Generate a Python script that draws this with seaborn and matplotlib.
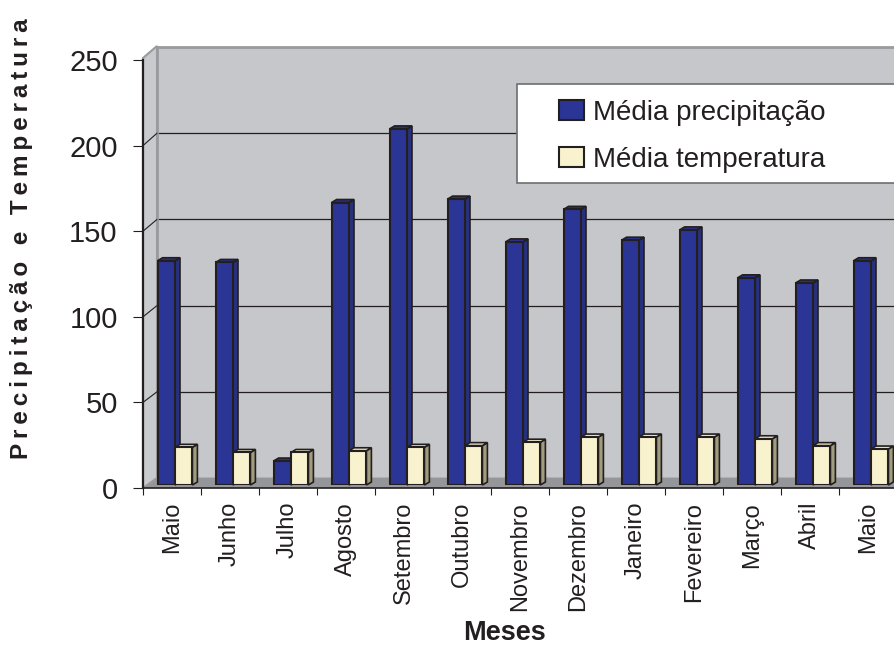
import numpy as np
import pandas as pd
import matplotlib
matplotlib.use("Agg")
import matplotlib.pyplot as plt
import matplotlib.patches as mpatches
import matplotlib.transforms as mtransforms
from matplotlib.lines import Line2D
import seaborn as sns

# ---------------- data ----------------
meses = ["Maio", "Junho", "Julho", "Agosto", "Setembro", "Outubro", "Novembro",
         "Dezembro", "Janeiro", "Fevereiro", "Março", "Abril", "Maio"]
precipitacao = [131, 130, 14, 165, 208, 167, 142, 161, 143, 149, 121, 118, 131]
temperatura = [22, 19, 19, 20, 22, 23, 25, 28, 28, 28, 27, 23, 21]
series = ["Média precipitação", "Média temperatura"]
yticks = [0, 50, 100, 150, 200, 250]

# ---------------- style ----------------
sns.set_style("white")
plt.rcParams["font.family"] = ["Liberation Sans", "DejaVu Sans"]
TXT = "#231F20"
BLUE = "#2B3595"
CREAM = "#F8F2CF"
BLUE_SIDE = "#26307F"
BLUE_TOP = "#2A3185"
CREAM_SIDE = "#A19C7E"
CREAM_TOP = "#EEE8C6"
WALL = "#C6C7CA"
FLOOR = "#95969A"
EDGE_GRAY = "#9A9B9E"

W, H = 895, 648
fig = plt.figure(figsize=(W / 100, H / 100), dpi=100)


def rect(left, bottom, top, width):
    return [left / W, 1 - bottom / H, width / W, (bottom - top) / H]


def fpx(x, y):
    return (x / W, 1 - y / H)


CW = 754  # width of 13 categories in px

# back wall
axw = fig.add_axes(rect(157, 478, 47, CW), zorder=0)
axw.set_facecolor(WALL)
axw.set_xlim(-0.5, 12.5)
axw.set_ylim(0, 250)
axw.set_xticks([])
axw.set_yticks(yticks)
axw.tick_params(left=False, labelleft=False)
axw.grid(axis="y", color=TXT, lw=0.9)
for s in ["right", "bottom"]:
    axw.spines[s].set_visible(False)
axw.spines["top"].set_color(EDGE_GRAY)
axw.spines["top"].set_linewidth(2)
axw.spines["left"].set_color(EDGE_GRAY)
axw.spines["left"].set_linewidth(2)

# floor and left wall
floor = mpatches.Polygon([fpx(143, 488), fpx(157, 478), fpx(920, 478), fpx(906, 488)],
                         closed=True, transform=fig.transFigure, facecolor=FLOOR,
                         edgecolor="none", zorder=0.5)
lwall = mpatches.Polygon([fpx(143, 488), fpx(143, 58), fpx(157, 46), fpx(157, 478)],
                         closed=True, transform=fig.transFigure, facecolor="#C9CACD",
                         edgecolor=EDGE_GRAY, lw=1.5, zorder=0.5)
fig.patches.extend([floor, lwall])

# bars
axb = fig.add_axes(rect(146, 485, 57, CW), zorder=1)
df = pd.DataFrame({
    "idx": list(range(len(meses))) * 2,
    "valor": precipitacao + temperatura,
    "serie": [series[0]] * len(meses) + [series[1]] * len(meses),
})
sns.barplot(data=df, x="idx", y="valor", hue="serie", hue_order=series,
            palette=[BLUE, CREAM], saturation=1, width=0.6, edgecolor=TXT,
            linewidth=1.5, ax=axb, legend=False)
axb.set_xlim(-0.5, 12.5)
axb.set_ylim(0, 250)
axb.set_axis_off()

ident = mtransforms.IdentityTransform()
dx, dy = 5, 3
bars = [p for p in axb.patches if isinstance(p, mpatches.Rectangle) and p.get_height() > 0]
for p in bars:
    fc = p.get_facecolor()
    is_blue = fc[2] > fc[0]
    z = 2 if is_blue else 3
    p.set_zorder(z)
    X0, Y0 = axb.transData.transform((p.get_x(), p.get_y()))
    X1, Y1 = axb.transData.transform((p.get_x() + p.get_width(), p.get_y() + p.get_height()))
    side = mpatches.Polygon([(X1, Y0), (X1 + dx, Y0 + dy), (X1 + dx, Y1 + dy), (X1, Y1)],
                            closed=True, transform=ident, clip_on=False,
                            facecolor=BLUE_SIDE if is_blue else CREAM_SIDE,
                            edgecolor=TXT, lw=1.2, zorder=z - 0.01)
    top = mpatches.Polygon([(X0, Y1), (X0 + dx, Y1 + dy), (X1 + dx, Y1 + dy), (X1, Y1)],
                           closed=True, transform=ident, clip_on=False,
                           facecolor=BLUE_TOP if is_blue else CREAM_TOP,
                           edgecolor=TXT, lw=1.2, zorder=z - 0.01)
    axb.add_patch(side)
    axb.add_patch(top)

# front axes (ticks and labels)
axf = fig.add_axes(rect(143, 488, 60, CW), zorder=2)
axf.set_facecolor("none")
axf.set_xlim(-0.5, 12.5)
axf.set_ylim(0, 250)
axf.set_yticks(yticks)
axf.set_yticklabels([str(v) for v in yticks])
axf.set_xticks(range(len(meses)))
axf.set_xticklabels(meses, rotation=90)
axf.set_xticks(np.arange(-0.5, 13, 1.0), minor=True)
axf.tick_params(axis="y", which="major", length=7.2, width=0.8, color=TXT,
                labelsize=21, labelcolor=TXT, pad=11, left=True, direction="out")
axf.tick_params(axis="x", which="major", length=0, labelsize=17, labelcolor=TXT, pad=10)
axf.tick_params(axis="x", which="minor", length=5, width=0.8, color=TXT, bottom=True,
                direction="out")
for s in ["top", "right"]:
    axf.spines[s].set_visible(False)
axf.spines["left"].set_color(TXT)
axf.spines["left"].set_linewidth(1.6)
axf.spines["bottom"].set_color(TXT)
axf.spines["bottom"].set_linewidth(1.2)

# perspective lines of the gridlines on the left wall
for v in yticks[1:-1]:
    xa, ya = axf.transData.transform((-0.5, v))
    xb, yb = axw.transData.transform((-0.5, v))
    fig.lines.append(Line2D([xa, xb], [ya, yb], transform=ident, color=TXT, lw=0.8,
                            zorder=0.6))

# legend box + legend
box = mpatches.Rectangle(fpx(517, 183), (905 - 517) / W, (183 - 84) / H,
                         transform=fig.transFigure, facecolor="white",
                         edgecolor="#6D6E71", lw=1.2, zorder=5)
fig.patches.append(box)
handles = [mpatches.Patch(facecolor=BLUE, edgecolor=TXT, lw=1.5, label=series[0]),
           mpatches.Patch(facecolor=CREAM, edgecolor=TXT, lw=1.5, label=series[1])]
leg = fig.legend(handles=handles, loc="upper left", bbox_to_anchor=fpx(559, 100),
                 frameon=False, fontsize=20, borderpad=0, borderaxespad=0,
                 handlelength=0.9, handleheight=0.72, handletextpad=0.32,
                 labelspacing=0.74, labelcolor=TXT)
leg.set_zorder(6)

# axis titles
fig.text(505 / W, 1 - 633 / H, "Meses", ha="center", va="center", fontsize=19.5,
         fontweight="bold", color=TXT)
thin = "\u2009"
ylab = (thin + " " + thin).join(thin.join(w) for w in ["Precipitação", "e", "Temperatura"])
fig.text(22 / W, 1 - 239 / H, ylab, ha="center", va="center", rotation=90,
         fontsize=17.5, fontweight="bold", color=TXT)

fig.savefig("out.png", dpi=100)
